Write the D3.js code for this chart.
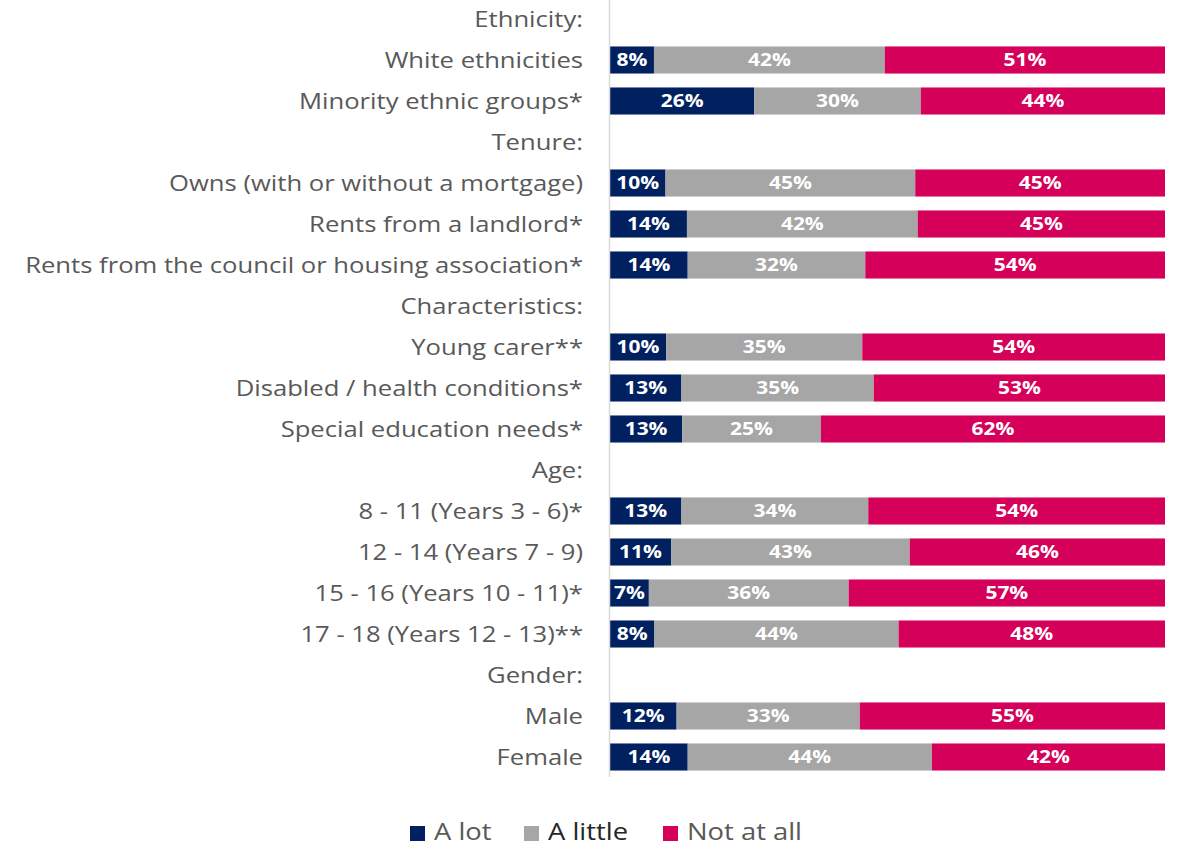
<!DOCTYPE html>
<html>
<head>
<meta charset="utf-8">
<script src="https://cdn.jsdelivr.net/npm/d3@7"></script>
<style>
  body { margin: 0; background: #fff; }
  svg text { font-family: "Open Sans", "Noto Sans", sans-serif; }
</style>
</head>
<body>
<svg id="chart" width="1178" height="846"></svg>
<script>
// rows in order; headers have no values
var categories = [
    "Ethnicity:", "White ethnicities", "Minority ethnic groups*",
    "Tenure:", "Owns (with or without a mortgage)", "Rents from a landlord*",
    "Rents from the council or housing association*",
    "Characteristics:", "Young carer**", "Disabled / health conditions*", "Special education needs*",
    "Age:", "8 - 11 (Years 3 - 6)*", "12 - 14 (Years 7 - 9)", "15 - 16 (Years 10 - 11)*", "17 - 18 (Years 12 - 13)**",
    "Gender:", "Male", "Female"
];
var aLot =     [null, 8, 26, null, 10, 14, 14, null, 10, 13, 13, null, 13, 11, 7, 8, null, 12, 14];
var aLittle =  [null, 42, 30, null, 45, 42, 32, null, 35, 35, 25, null, 34, 43, 36, 44, null, 33, 44];
var notAtAll = [null, 51, 44, null, 45, 45, 54, null, 54, 53, 62, null, 54, 46, 57, 48, null, 55, 42];
var seriesNames = ["A lot", "A little", "Not at all"];
var colors = ["#002060", "#A6A6A6", "#D5005A"];

var svg = d3.select("#chart");
var x0 = 610, x1 = 1165;
var stretch = 1.165; // text in the source is wider than it is tall

var y = d3.scaleBand()
    .domain(categories)
    .range([-1.5, 777.5])
    .paddingInner(0.34)
    .paddingOuter(0.17);

var x = d3.scaleLinear().domain([0, 1]).range([x0, x1]);

var rows = categories.map(function(c, i) {
    return { cat: c, vals: [aLot[i], aLittle[i], notAtAll[i]] };
}).filter(function(r) { return r.vals[0] != null; });

var g = svg.append("g");

rows.forEach(function(r) {
    var total = d3.sum(r.vals);
    var acc = 0;
    r.vals.forEach(function(v, k) {
        var start = acc / total, end = (acc + v) / total;
        acc += v;
        g.append("rect")
            .attr("x", x(start))
            .attr("y", y(r.cat))
            .attr("width", x(end) - x(start))
            .attr("height", y.bandwidth())
            .attr("fill", colors[k]);
        g.append("text")
            .attr("transform", "translate(" + (x(start) + x(end)) / 2 + "," + (y(r.cat) + y.bandwidth() / 2) + ") scale(" + stretch + ",1)")
            .attr("dy", "0.36em")
            .attr("text-anchor", "middle")
            .attr("fill", "#fff")
            .attr("font-weight", "bold")
            .attr("font-size", 18)
            .text(v + "%");
    });
});

// category labels
svg.append("g").selectAll("text")
    .data(categories)
    .enter().append("text")
    .attr("transform", function(d) {
        return "translate(583," + (y(d) + y.bandwidth() / 2) + ") scale(" + stretch + ",1)";
    })
    .attr("dy", "0.36em")
    .attr("text-anchor", "end")
    .attr("fill", "#595959")
    .attr("font-size", 22)
    .text(function(d) { return d; });

// vertical axis line
svg.append("line")
    .attr("x1", 609.5).attr("x2", 609.5)
    .attr("y1", 0).attr("y2", 777)
    .attr("stroke", "#d9d9d9")
    .attr("stroke-width", 1.5);

// legend
var legendX = [410, 524, 663];
var legend = svg.append("g");
seriesNames.forEach(function(name, k) {
    legend.append("rect")
        .attr("x", legendX[k]).attr("y", 826)
        .attr("width", 15).attr("height", 15)
        .attr("fill", colors[k]);
    legend.append("text")
        .attr("transform", "translate(" + (legendX[k] + 24) + ",832) scale(" + stretch + ",1)")
        .attr("dy", "0.36em")
        .attr("fill", k == 1 ? "#262626" : "#595959")
        .attr("font-size", 23.5)
        .text(name);
});
</script>
</body>
</html>
